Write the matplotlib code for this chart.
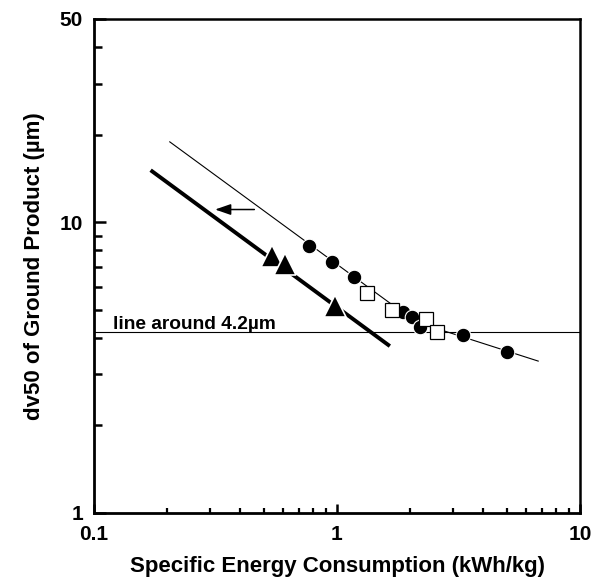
import numpy as np
import matplotlib
matplotlib.use("Agg")
from matplotlib import pyplot as plt
from matplotlib.ticker import FixedLocator, NullFormatter

plt.rcParams['font.family'] = ['Liberation Sans', 'DejaVu Sans']
plt.rcParams['font.weight'] = 'bold'

# circles (filled)
circ_x = [0.769, 0.956, 1.175, 1.87, 2.035, 2.20, 3.31, 4.99]
circ_y = [8.27, 7.30, 6.49, 4.91, 4.72, 4.36, 4.09, 3.57]
# squares (open)
sq_x = [1.325, 1.69, 2.32, 2.57]
sq_y = [5.69, 5.01, 4.63, 4.20]
# triangles (filled)
tri_x = [0.538, 0.609, 0.985]
tri_y = [7.67, 7.21, 5.17]

# thin guide line through circles / squares
thin_x = [0.205, 2.1, 6.73]
thin_y = [18.9, 4.55, 3.33]
# thick line through triangles
thick_x = [0.171, 1.65]
thick_y = [15.1, 3.75]

# arrow (shift to the left)
arrow_from = (0.457, 11.06)
arrow_to = (0.315, 11.06)

h_level = 4.2
h_text = "line around 4.2\u00b5m"

x_major = [0.1, 1, 10]
x_major_lbl = ["0.1", "1", "10"]
x_minor = [0.2, 0.3, 0.4, 0.5, 0.6, 0.7, 0.8, 0.9, 2, 3, 4, 5, 6, 7, 8, 9]
y_major = [1, 10, 50]
y_major_lbl = ["1", "10", "50"]
y_minor = [2, 3, 4, 5, 6, 7, 8, 9, 20, 30, 40]

fig = plt.figure(figsize=(6.02, 5.79), dpi=100)
ax = fig.add_axes([94/602, (579-513)/579, (580-94)/602, (513-19)/579])
ax.set_xscale('log')
ax.set_yscale('log')
ax.set_xlim(0.1, 10)
ax.set_ylim(1, 50)

ax.axhline(h_level, color='black', lw=0.8, zorder=1)
ax.plot(thin_x, thin_y, color='black', lw=0.8, zorder=2)
ax.plot(thick_x, thick_y, color='black', lw=2.8, solid_capstyle='butt', zorder=2)

ax.plot(circ_x, circ_y, 'o', ms=10.5, mfc='black', mec='white', mew=0.8, zorder=3)
ax.plot(sq_x, sq_y, 's', ms=10.5, mfc='white', mec='black', mew=0.9, zorder=4)
ax.plot(tri_x, tri_y, '^', ms=15.5, mfc='black', mec='white', mew=1.2, zorder=4)

ax.annotate("", xy=arrow_to, xytext=arrow_from,
            arrowprops=dict(arrowstyle="-|>,head_length=0.95,head_width=0.33",
                            mutation_scale=10, color='black', lw=1.1,
                            shrinkA=0, shrinkB=0))

ax.annotate(h_text, xy=(0.1197, h_level), xytext=(0, 2), textcoords='offset points',
            fontsize=13.8, fontweight='bold', va='baseline', ha='left')

ax.xaxis.set_major_locator(FixedLocator(x_major))
ax.xaxis.set_minor_locator(FixedLocator(x_minor))
ax.xaxis.set_minor_formatter(NullFormatter())
ax.set_xticklabels(x_major_lbl)
ax.yaxis.set_major_locator(FixedLocator(y_major))
ax.yaxis.set_minor_locator(FixedLocator(y_minor))
ax.yaxis.set_minor_formatter(NullFormatter())
ax.set_yticklabels(y_major_lbl)

ax.tick_params(axis='x', which='major', direction='in', length=6.5, width=1.8,
               labelsize=15, pad=9)
ax.tick_params(axis='x', which='minor', direction='in', length=3.6, width=1.6)
ax.tick_params(axis='y', which='major', direction='in', length=8.6, width=1.8,
               labelsize=15, pad=8)
ax.tick_params(axis='y', which='minor', direction='in', length=5.8, width=1.8)
for lbl in ax.get_xticklabels() + ax.get_yticklabels():
    lbl.set_fontweight('bold')

ax.spines['left'].set_linewidth(2.0)
ax.spines['bottom'].set_linewidth(2.0)
ax.spines['top'].set_linewidth(1.8)
ax.spines['right'].set_linewidth(1.8)

ax.set_xlabel("Specific Energy Consumption (kWh/kg)", fontsize=16, fontweight='bold', labelpad=8)
ax.set_ylabel("dv50 of Ground Product (\u00b5m)", fontsize=16, fontweight='bold', labelpad=10.5)

fig.savefig("out.png", dpi=100)
